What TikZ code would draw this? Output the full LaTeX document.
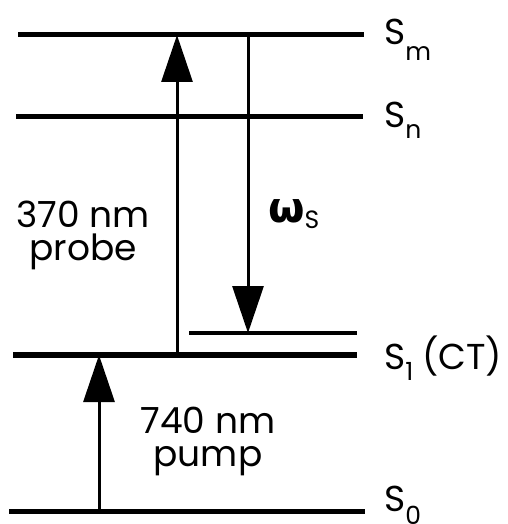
\documentclass[tikz,border=0pt]{standalone}
\usepackage{fontspec}
\setmainfont{Poppins}
\newfontfamily\grkfont{DejaVu Sans}
\usetikzlibrary{arrows.meta}
\begin{document}
\begin{tikzpicture}[x=1pt,y=-1pt,
  level/.style={line width=5.5pt},
  shortlevel/.style={line width=4.5pt},
  ar/.style={line width=3pt,-{Triangle[length=47pt,width=31pt]}},
  lbl/.style={font=\fontsize{36}{38}\selectfont, inner sep=0pt, anchor=base west},
  txt/.style={font=\fontsize{36}{33}\selectfont, inner sep=0pt, align=center, anchor=base}]
\newcommand{\sbx}[2]{\raisebox{-#1pt}{\fontsize{25}{26}\selectfont #2}}
\useasboundingbox (0,0) rectangle (507,524);
% levels
\coordinate (smL) at (18,34.5);  \coordinate (smR) at (364,34.5);
\coordinate (snL) at (16,116.5); \coordinate (snR) at (363,116.5);
\coordinate (sctL) at (189,333); \coordinate (sctR) at (357,333);
\coordinate (s1L) at (13,355);   \coordinate (s1R) at (357,355);
\coordinate (s0L) at (9,511.7);  \coordinate (s0R) at (365,511.7);
\draw[level] (smL) -- (smR);
\draw[level] (snL) -- (snR);
\draw[shortlevel] (sctL) -- (sctR);
\draw[level] (s1L) -- (s1R);
\draw[level] (s0L) -- (s0R);
% arrows
\coordinate (pbS) at (177,355);  \coordinate (pbE) at (177,35);
\coordinate (dnS) at (248,34.5); \coordinate (dnE) at (248,333);
\coordinate (pmS) at (99,511.7); \coordinate (pmE) at (99,355);
\draw[ar] (pbS) -- (pbE);
\draw[ar] (dnS) -- (dnE);
\draw[ar] (pmS) -- (pmE);
% labels
\node[lbl] (lsm) at (384,45) {S\sbx{16}{m}};
\node[lbl] (lsn) at (384,127) {S\sbx{11}{n}};
\node[lbl] (ls1) at (384,369) {S\sbx{11}{1}\hspace{9pt}(CT)};
\node[lbl] (ls0) at (384,511) {S\sbx{13}{0}};
\node[txt] (probe) at (83,260) {370 nm\\probe};
\node[txt] (pump) at (208,466) {740 nm\\pump};
\node[inner sep=0pt, anchor=base west] (om) at (268,222) {{\grkfont\bfseries\fontsize{42}{44}\selectfont ω}\raisebox{-6pt}{\fontsize{25}{26}\selectfont S}};
\end{tikzpicture}
\end{document}
